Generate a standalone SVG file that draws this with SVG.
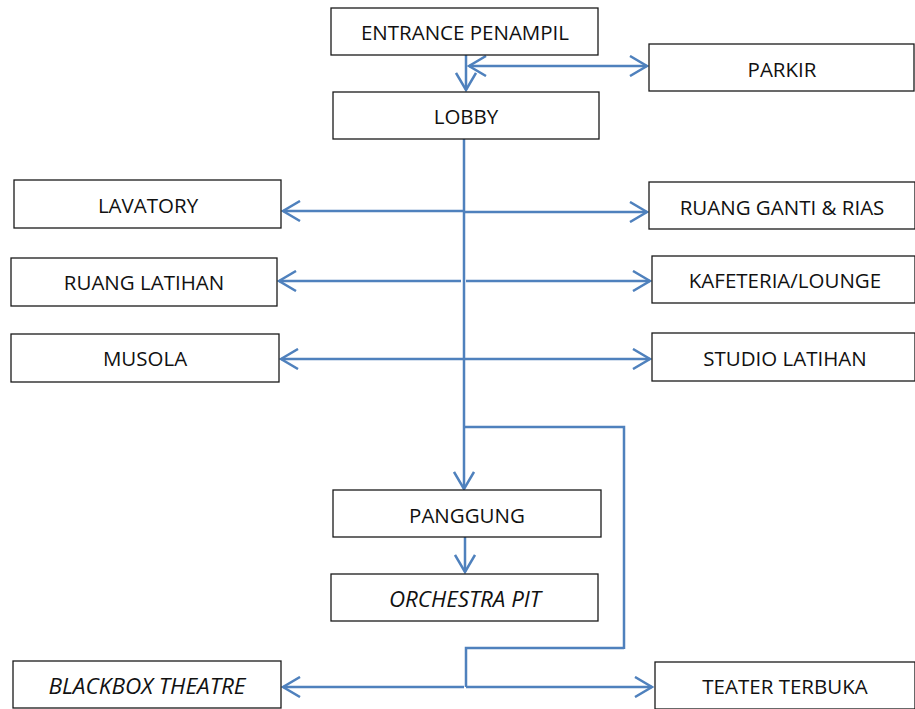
<svg xmlns="http://www.w3.org/2000/svg" width="915" height="709" viewBox="0 0 915 709">
  <style>
    .box { fill: #ffffff; stroke: #1a1a1a; stroke-width: 1.3; }
    .lbl { font-family: "Open Sans", "Liberation Sans", sans-serif; font-size: 20.5px; fill: #111111; text-anchor: middle; }
    .it { font-style: italic; font-size: 21.5px; }
    .flow { fill: none; stroke: #4F81BD; stroke-width: 2.5; }
  </style>
  <defs>
    <marker id="chev" viewBox="0 0 20 22" refX="18" refY="11" markerWidth="20" markerHeight="22" markerUnits="userSpaceOnUse" orient="auto-start-reverse">
      <path d="M1,1 L18,11 L1,21" fill="none" stroke="#4F81BD" stroke-width="2.5"/>
    </marker>
  </defs>

  <!-- connectors -->
  <g id="connectors">
    <path class="flow" d="M466,55 V90" marker-end="url(#chev)"/>
    <path class="flow" d="M469,66 H647" marker-start="url(#chev)" marker-end="url(#chev)"/>
    <path class="flow" d="M464,139 V489" marker-end="url(#chev)"/>
    <path class="flow" d="M463,211 H283" marker-end="url(#chev)"/>
    <path class="flow" d="M464,212 H647" marker-end="url(#chev)"/>
    <path class="flow" d="M461,281 H279" marker-end="url(#chev)"/>
    <path class="flow" d="M466,281 H650" marker-end="url(#chev)"/>
    <path class="flow" d="M463,359 H281" marker-end="url(#chev)"/>
    <path class="flow" d="M465,359 H650" marker-end="url(#chev)"/>
    <path class="flow" d="M465,537 V572" marker-end="url(#chev)"/>
    <path class="flow" d="M464,427 H624 V649"/>
    <path class="flow" d="M624,648 H466 V687"/>
    <path class="flow" d="M464,687 H283" marker-end="url(#chev)"/>
    <path class="flow" d="M466,687 H652" marker-end="url(#chev)"/>
  </g>

  <g id="entrance"><rect class="box" x="331" y="8" width="267" height="47"/><text class="lbl" x="465" y="40">ENTRANCE PENAMPIL</text></g>
  <g id="lobby"><rect class="box" x="333" y="92" width="266" height="47"/><text class="lbl" x="466" y="124">LOBBY</text></g>
  <g id="parkir"><rect class="box" x="649" y="44" width="265" height="47"/><text class="lbl" x="782" y="77">PARKIR</text></g>
  <g id="lavatory"><rect class="box" x="14" y="180" width="267" height="48"/><text class="lbl" x="148" y="213">LAVATORY</text></g>
  <g id="ruang-ganti"><rect class="box" x="649" y="182" width="266" height="47"/><text class="lbl" x="782" y="215">RUANG GANTI &amp; RIAS</text></g>
  <g id="ruang-latihan"><rect class="box" x="11" y="258" width="266" height="48"/><text class="lbl" x="144" y="290">RUANG LATIHAN</text></g>
  <g id="kafeteria"><rect class="box" x="652" y="256" width="263" height="47"/><text class="lbl" x="785" y="288">KAFETERIA/LOUNGE</text></g>
  <g id="musola"><rect class="box" x="11" y="334" width="268" height="48"/><text class="lbl" x="145" y="366">MUSOLA</text></g>
  <g id="studio"><rect class="box" x="652" y="333" width="263" height="48"/><text class="lbl" x="785" y="366">STUDIO LATIHAN</text></g>
  <g id="panggung"><rect class="box" x="333" y="490" width="268" height="47"/><text class="lbl" x="467" y="523">PANGGUNG</text></g>
  <g id="orchestra"><rect class="box" x="331" y="574" width="267" height="47"/><text class="lbl it" x="465" y="607" textLength="152" lengthAdjust="spacingAndGlyphs">ORCHESTRA PIT</text></g>
  <g id="blackbox"><rect class="box" x="13" y="661" width="268" height="47"/><text class="lbl it" x="147" y="694" textLength="197" lengthAdjust="spacingAndGlyphs">BLACKBOX THEATRE</text></g>
  <g id="teater"><rect class="box" x="655" y="662" width="260" height="47"/><text class="lbl" x="785" y="694">TEATER TERBUKA</text></g>
</svg>
